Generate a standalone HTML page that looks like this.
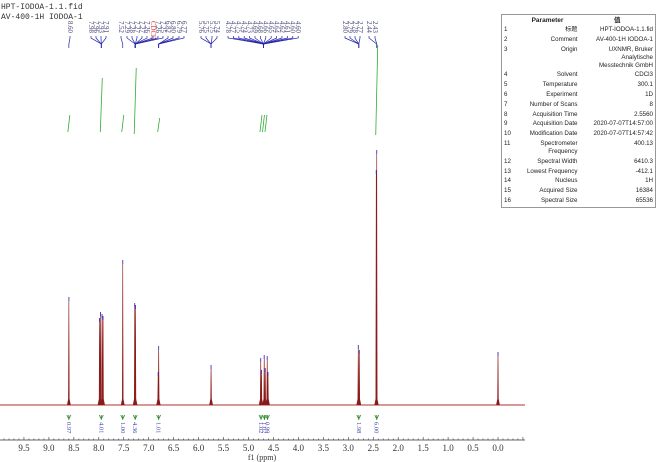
<!DOCTYPE html>
<html><head><meta charset="utf-8"><style>
body{margin:0;background:#fff;width:660px;height:462px;overflow:hidden;font-family:"Liberation Serif","Noto Serif CJK SC",serif}
svg{position:absolute;left:0;top:0}
table{position:absolute;left:501px;top:14px;width:154px;border:1px solid #999;border-collapse:collapse;font-family:"Liberation Sans","Noto Sans CJK SC",sans-serif;font-size:6.2px;color:#222;background:#fff;table-layout:fixed}
td{padding:0 2px;line-height:8px;vertical-align:top;height:9.8px;white-space:nowrap;overflow:hidden}
td:nth-child(2){text-align:right}td:nth-child(3){text-align:right}
th{font-size:6.5px;height:11px;padding:0;line-height:10px}
</style></head><body>
<svg id="s" width="660" height="462" xmlns="http://www.w3.org/2000/svg"></svg>
<table>
<colgroup><col style="width:14px"><col style="width:64px"><col style="width:76px"></colgroup>
<tr><th></th><th style="text-align:center">Parameter</th><th style="text-align:center">值</th></tr>
<tr><td>1</td><td>标题</td><td>HPT-IODOA-1.1.fid</td></tr>
<tr><td>2</td><td>Comment</td><td>AV-400-1H IODOA-1</td></tr>
<tr><td style="height:25.8px">3</td><td>Origin</td><td>UXNMR, Bruker<br>Analytische<br>Messtechnik GmbH</td></tr>
<tr><td>4</td><td>Solvent</td><td>CDCl3</td></tr>
<tr><td>5</td><td>Temperature</td><td>300.1</td></tr>
<tr><td>6</td><td>Experiment</td><td>1D</td></tr>
<tr><td>7</td><td>Number of Scans</td><td>8</td></tr>
<tr><td>8</td><td>Acquisition Time</td><td>2.5560</td></tr>
<tr><td>9</td><td>Acquisition Date</td><td>2020-07-07T14:57:00</td></tr>
<tr><td>10</td><td>Modification Date</td><td>2020-07-07T14:57:42</td></tr>
<tr><td style="height:17.8px">11</td><td>Spectrometer<br>Frequency</td><td>400.13</td></tr>
<tr><td>12</td><td>Spectral Width</td><td>6410.3</td></tr>
<tr><td>13</td><td>Lowest Frequency</td><td>-412.1</td></tr>
<tr><td>14</td><td>Nucleus</td><td>1H</td></tr>
<tr><td>15</td><td>Acquired Size</td><td>16384</td></tr>
<tr><td>16</td><td>Spectral Size</td><td>65536</td></tr>
</table>
<script>
var s=document.getElementById('s'),h='';
function X(p){return 498-49.9*p}
h+='<text x="1" y="9" font-size="8" fill="#333" font-family="Liberation Mono,monospace">HPT-IODOA-1.1.fid</text>';
h+='<text x="1" y="19" font-size="8" fill="#333" font-family="Liberation Mono,monospace">AV-400-1H  IODOA-1</text>';
var B=405,pk=[[8.60,297],[7.985,318],[7.965,312],[7.935,314],[7.915,316],[7.52,260],[7.28,303],[7.265,305],[6.80,346],[6.81,372],[5.75,365],[4.755,358],[4.74,370],[4.685,355],[4.665,368],[4.625,356],[4.61,372],[2.80,345],[2.78,350],[2.43,150],[2.44,170],[0.0,352]];
h+='<line x1="0" y1="'+B+'" x2="525" y2="'+B+'" stroke="#a33" stroke-width="1"/>';
pk.forEach(function(q){var x=X(q[0]);h+='<path d="M'+(x-1.6)+' '+B+' L'+(x-0.4)+' '+(B-6)+' L'+x+' '+q[1]+' L'+(x+0.4)+' '+(B-6)+' L'+(x+1.6)+' '+B+'" fill="#8b1a1a" stroke="#8b1a1a" stroke-width="0.6"/><line x1="'+x+'" y1="'+q[1]+'" x2="'+x+'" y2="'+(q[1]+4)+'" stroke="#33c" stroke-width="0.8"/>';});
[[8.60,'0.97'],[7.95,'4.01'],[7.52,'1.00'],[7.27,'4.36'],[6.80,'1.01'],[4.75,'1.02'],[4.68,'1.02'],[4.62,'0.99'],[2.79,'1.98'],[2.43,'6.00']].forEach(function(q){var x=X(q[0]);h+='<path d="M'+(x-2)+' 415 L'+x+' 419 L'+(x+2)+' 415 M'+x+' 415 V420" stroke="#2a8a2a" stroke-width="0.8" fill="none"/><text transform="translate('+(x-2)+',422) rotate(90)" font-size="6.5" fill="#44a">'+q[1]+'</text>';});
[[8.60,115,132],[7.95,78,132],[7.52,115,132],[7.27,68,134],[6.80,118,132],[4.75,115,132],[4.70,115,132],[4.65,115,132],[2.43,45,135]].forEach(function(q){var x=X(q[0]);h+='<line x1="'+(x-1)+'" y1="'+q[2]+'" x2="'+(x+1)+'" y2="'+q[1]+'" stroke="#3a3" stroke-width="0.8"/>';});
h+='<line x1="0" y1="440" x2="525" y2="440" stroke="#333" stroke-width="0.8"/>';
for(var p=-0.5;p<=9.9;p+=0.1){var x=X(p);if(x<0||x>525)continue;var m=Math.abs(p*2-Math.round(p*2))<0.01;h+='<line x1="'+x+'" y1="440" x2="'+x+'" y2="'+(m?437:438.5)+'" stroke="#333" stroke-width="0.6"/>';}
for(var i=0;i<=19;i++){var p=i*0.5;h+='<text x="'+X(p)+'" y="451" font-size="9" text-anchor="middle" fill="#333">'+p.toFixed(1)+'</text>';}
h+='<text x="262" y="460" font-size="8" text-anchor="middle" fill="#333">f1 (ppm)</text>';
var L=[[70,'8.60',8.60],[91,'7.98',7.95],[96,'7.96',7.95],[101,'7.93',7.95],[106,'7.91',7.95],[121,'7.52',7.52],[127,'7.29',7.27],[132,'7.28',7.27],[137,'7.27',7.27],[142,'7.27',7.27],[147,'7.26',7.27],[153,'7.26',7.27,'#d33'],[158,'7.26',7.27],[163,'7.25',7.27],[168,'6.82',6.80],[173,'6.80',6.80],[179,'6.79',6.80],[184,'6.77',6.80],[201,'5.76',5.75],[206,'5.75',5.75],[212,'5.75',5.75],[217,'5.74',5.75]];
var g4=['4.78','4.77','4.75','4.74','4.73','4.69','4.68','4.66','4.65','4.64','4.62','4.61','4.60','4.60'];
g4.forEach(function(t,i){L.push([228+i*5.4,t,4.70]);});
['2.80','2.79','2.78','2.77'].forEach(function(t,i){L.push([345+i*5,t,2.79]);});
L.push([369,'2.44',2.43]);L.push([375,'2.43',2.43]);
L.forEach(function(q){var c=q[3]||'#447';h+='<text transform="translate('+(q[0]-2.2)+',21) rotate(90)" font-size="6.8" fill="'+c+'" font-family="Liberation Serif,serif">'+(q[3]?'CDCl3':q[1])+'</text><path d="M'+q[0]+' 36 V38 L'+X(q[2])+' 44 V48" stroke="#22a" stroke-width="0.7" fill="none"/>';});
s.innerHTML=h;
</script>
</body></html>
